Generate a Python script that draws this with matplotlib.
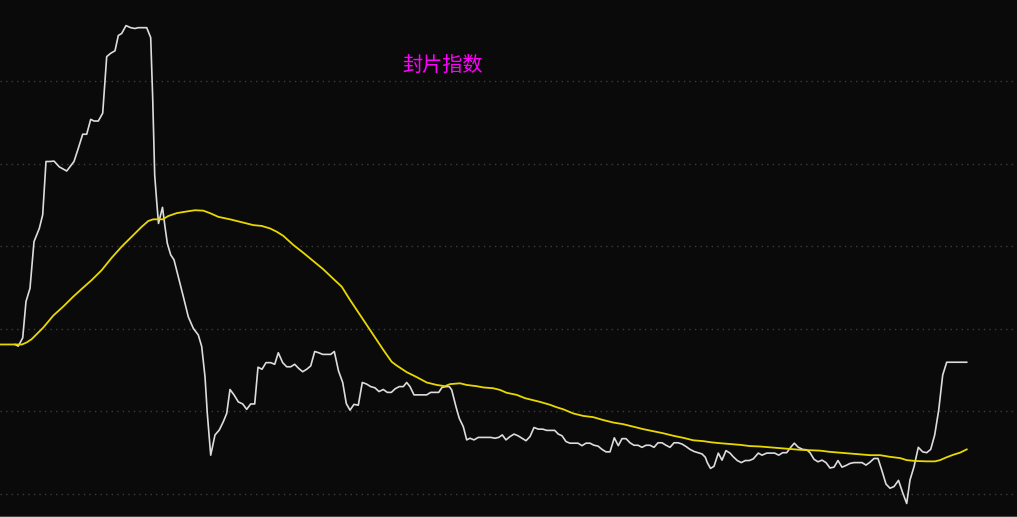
import matplotlib
matplotlib.use("Agg")
import matplotlib.pyplot as plt

# index values (white line)
white_x = [15, 18.3, 22.7, 26, 30, 34, 39.3, 42.7, 46, 50, 54, 59.3, 66.7, 74, 78.3, 82.7, 86.7,
           90.7, 94, 98.3, 102.7, 106.7, 110.7, 115, 118.3, 121.7, 126, 130.7, 135, 138.3, 146.7,
           150.7, 152.7, 154.7, 156.7, 158.5, 162.5, 165, 167.3, 170.7, 174, 178.3, 183.3, 188.3,
           193.3, 198.3, 201.7, 205, 207.3, 210.7, 215, 219.3, 223.3, 226.7, 230, 234, 238.3,
           242.7, 246.7, 250.7, 254.7, 258, 262, 266, 270.7, 274.7, 278.3, 282.7, 286.7, 290.7,
           294.7, 298.7, 302.7, 306.7, 310.7, 314.7, 318.7, 322.7, 326.7, 330.7, 334.3, 338.5,
           342.7, 346.3, 350, 354, 358.3, 362.3, 366.7, 370.7, 375, 379, 383.3, 387.3, 391.3,
           395.3, 399.3, 403.3, 406.7, 410, 414, 418.3, 422.7, 426.7, 430.7, 434.7, 438.7, 442,
           446, 449.3, 451.7, 456, 459.3, 463.3, 466.7, 470, 474, 478.3, 482.7, 486.7, 490.7, 495,
           498.7, 502.3, 506, 510, 514, 518, 522, 526, 530, 534, 538.3, 542.7, 546.7, 550.7, 554.7,
           558.3, 562, 566, 570, 574, 578, 582, 586, 590, 594, 598, 602, 606, 610, 614.3, 618.3,
           622, 626, 630, 634, 638, 642, 646, 650, 654, 658, 662, 666, 670, 674, 678, 682, 686,
           690, 694, 698, 702, 705.3, 707.3, 710.5, 714, 718.3, 722, 726, 730, 733.3, 737.3, 741.3,
           745.3, 749.3, 753.3, 758.3, 762, 766.7, 770.7, 774.7, 778.7, 782.7, 786.7, 790.7, 794.3,
           798.3, 802.7, 806.7, 810, 814, 818, 822, 826, 830, 834, 838, 842, 846, 850, 854, 858,
           862, 866, 870, 874, 878, 882, 886, 890, 894, 898.5, 902.7, 906.7, 910, 914, 918.3,
           922.7, 926.7, 930.7, 934.7, 938.7, 942.7, 946.7, 966.7]
white_v = [36.2, 35.8, 37.8, 46.6, 49.8, 61.1, 64.3, 67.6, 80.5, 80.5, 80.6, 79.2, 78.2, 80.5, 83.7,
           87.1, 87.1, 90.7, 90.3, 90.3, 92.2, 105.9, 106.7, 107.3, 111.0, 111.5, 113.4, 112.9,
           112.7, 112.9, 112.9, 110.5, 95.8, 77.2, 70.8, 65.5, 69.4, 64.7, 60.7, 57.9, 56.7, 52.6,
           47.8, 42.9, 40.1, 38.5, 35.7, 28.4, 19.5, 9.4, 14.3, 15.5, 17.5, 19.5, 25.3, 24.0, 22.3,
           21.8, 20.5, 21.8, 21.8, 30.7, 30.2, 31.8, 31.8, 31.4, 34.2, 31.8, 30.8, 30.8, 31.4,
           30.4, 29.6, 30.2, 31.0, 34.5, 34.2, 33.8, 33.8, 33.8, 34.5, 29.8, 27.0, 21.9, 20.3,
           21.7, 21.5, 27.0, 26.6, 26.0, 25.7, 24.8, 25.3, 24.6, 24.6, 25.5, 26.0, 26.0, 27.0,
           26.0, 24.0, 24.0, 24.0, 24.0, 24.6, 24.6, 24.6, 25.8, 26.0, 26.0, 25.2, 21.1, 18.3,
           16.3, 13.1, 13.5, 13.1, 13.7, 13.7, 13.7, 13.7, 13.5, 13.7, 14.3, 13.1, 13.9, 14.5,
           14.1, 13.5, 12.9, 13.9, 16.1, 15.7, 15.7, 15.4, 15.4, 15.4, 14.5, 14.1, 12.7, 12.3,
           12.3, 12.3, 11.7, 12.3, 12.3, 11.8, 11.6, 10.8, 10.2, 10.2, 13.6, 11.7, 13.4, 13.4,
           12.4, 11.8, 11.8, 11.3, 11.8, 11.8, 11.3, 12.4, 12.4, 11.8, 11.3, 12.4, 12.4, 12.1,
           11.5, 10.8, 10.3, 10.0, 9.7, 8.9, 7.6, 6.2, 6.7, 9.9, 8.2, 10.5, 9.9, 9.0, 8.1, 7.6,
           8.1, 8.1, 8.5, 9.9, 9.4, 9.9, 9.9, 9.9, 9.4, 10.0, 10.0, 11.3, 12.3, 11.3, 10.8, 10.7,
           10.0, 8.4, 7.8, 8.2, 7.6, 6.3, 6.5, 8.1, 6.5, 6.9, 7.4, 7.6, 7.6, 7.6, 7.0, 7.7, 8.6,
           8.6, 5.6, 2.4, 1.4, 1.8, 3.3, 0.3, -2.3, 3.4, 6.6, 11.3, 10.2, 10.0, 10.8, 14.3, 20.3,
           28.8, 31.9, 31.9]

# moving average (yellow line)
yellow_x = [0, 22, 26.7, 31.7, 36.7, 43.3, 53.3, 63.3, 73.3, 83.3, 91.7, 101.7, 111.7, 121.7,
            131.7, 141.7, 148.3, 153.3, 162.7, 168.3, 176.7, 186.7, 195, 203.3, 210, 218.3, 230,
            241.7, 253.3, 261.7, 270, 276.7, 283.3, 293.3, 303.3, 313.3, 323.3, 333.3, 341.7, 350,
            376.7, 383.3, 391.7, 396.7, 406.7, 416.7, 426.7, 436.7, 445, 450, 460, 466.7, 476.7,
            483.3, 493.3, 500, 506.7, 516.7, 525, 540, 550, 556.7, 563.3, 573.3, 583.3, 593.3,
            603.3, 613.3, 623.3, 633.3, 643.3, 653.3, 663.3, 673.3, 683.3, 693.3, 703.3, 711.7,
            720, 730, 740, 750, 760, 770, 780, 790, 800, 810, 820, 830, 840, 850, 860, 870, 880,
            890, 900, 906.7, 915, 926.7, 935, 940, 946.7, 953.3, 960, 966.7]
yellow_v = [36.2, 36.2, 36.7, 37.5, 38.7, 40.3, 43.2, 45.4, 47.8, 50.0, 51.8, 54.2, 57.2, 59.9,
            62.3, 64.7, 66.1, 66.5, 66.5, 67.3, 68.0, 68.4, 68.7, 68.6, 68.0, 67.1, 66.5, 65.8,
            65.1, 64.9, 64.3, 63.5, 62.5, 60.3, 58.4, 56.4, 54.4, 52.1, 50.2, 47.0, 37.3, 34.9,
            32.0, 31.1, 29.5, 28.3, 27.0, 26.4, 26.1, 26.6, 26.8, 26.4, 26.1, 25.8, 25.6, 25.2,
            24.5, 24.0, 23.2, 22.3, 21.6, 21.0, 20.5, 19.5, 18.9, 18.6, 17.9, 17.3, 16.9, 16.3,
            15.7, 15.2, 14.7, 14.1, 13.6, 13.0, 12.8, 12.5, 12.3, 12.1, 11.9, 11.6, 11.5, 11.3,
            11.1, 10.9, 10.7, 10.6, 10.5, 10.2, 10.0, 9.8, 9.6, 9.4, 9.4, 9.0, 8.7, 8.2, 8.0,
            7.9, 7.9, 8.2, 8.9, 9.5, 10.0, 10.8]

grid_levels = [0, 20, 40, 60, 80, 100]
title_text = "封片指数"

bg = "#0a0a0a"
fig = plt.figure(figsize=(10.17, 5.17), dpi=100, facecolor=bg)
ax = fig.add_axes([0, 0, 1, 1], facecolor=bg)

for lv in grid_levels:
    ax.axhline(lv, color="#3c3c3c", lw=1, linestyle=(0, (1, 3)), zorder=1)

ax.plot(yellow_x, yellow_v, color="#e8d800", lw=1.3, zorder=3)
ax.plot(white_x, white_v, color="#dcdcdc", lw=1.2, zorder=2)

ax.text(0.4356, 0.874, title_text, transform=ax.transAxes, color="#ff00ff",
        fontsize=14.5, ha="center", va="center",
        family=["Noto Sans CJK SC", "DejaVu Sans"])

ax.set_xlim(0, 1017)
ax.set_ylim(-5.57, 119.6)
ax.set_xticks([])
ax.set_yticks([])
for side in ["top", "left", "right"]:
    ax.spines[side].set_visible(False)
ax.spines["bottom"].set_color("#444444")
ax.spines["bottom"].set_linewidth(1.5)

fig.savefig("out.png", dpi=100, facecolor=bg)
